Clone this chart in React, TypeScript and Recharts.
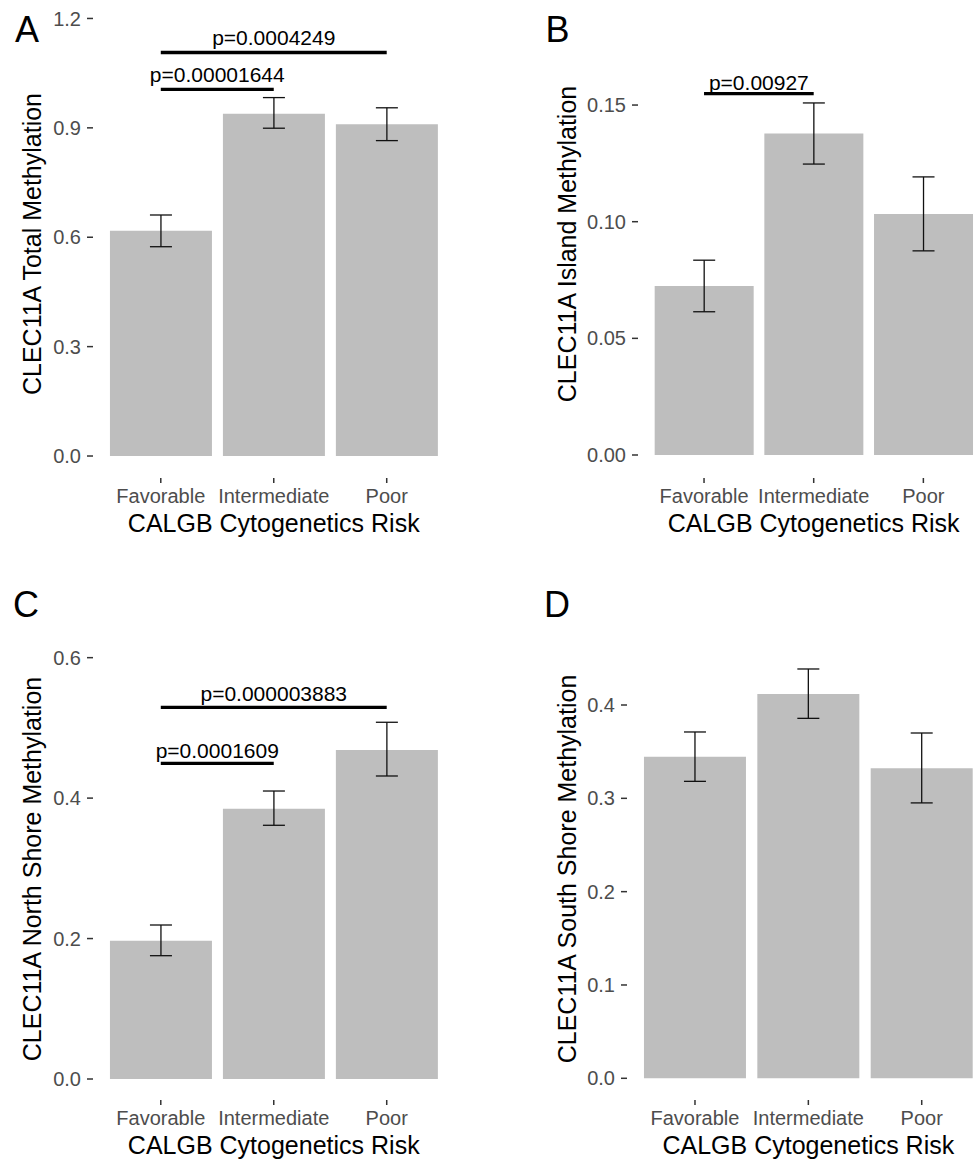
import React from 'react';
import { BarChart, Bar, XAxis, YAxis, ErrorBar, ReferenceLine, Label } from 'recharts';

const FONT = 'Liberation Sans, Arial, Helvetica, sans-serif';

const categories = ['Favorable', 'Intermediate', 'Poor'];

// Panel A: total methylation
const totalMean = [0.618, 0.939, 0.91];
const totalLow = [0.574, 0.899, 0.865];
const totalHigh = [0.661, 0.983, 0.955];
const totalTicks = [0, 0.3, 0.6, 0.9, 1.2];
const totalTickLabels = ['0.0', '0.3', '0.6', '0.9', '1.2'];
const totalPFrom = ['Favorable', 'Favorable'];
const totalPTo = ['Poor', 'Intermediate'];
const totalPLineY = [1.1066, 1.0057];
const totalPTextY = [1.148, 1.0475];
const totalPText = ['p=0.0004249', 'p=0.00001644'];

// Panel B: island methylation
const islandMean = [0.0724, 0.1378, 0.1033];
const islandLow = [0.0614, 0.1247, 0.0875];
const islandHigh = [0.0835, 0.1509, 0.1192];
const islandTicks = [0, 0.05, 0.1, 0.15];
const islandTickLabels = ['0.00', '0.05', '0.10', '0.15'];
const islandPFrom = ['Favorable'];
const islandPTo = ['Intermediate'];
const islandPLineY = [0.1549];
const islandPTextY = [0.1596];
const islandPText = ['p=0.00927'];

// Panel C: north shore methylation
const northMean = [0.197, 0.3849, 0.4685];
const northLow = [0.1756, 0.3613, 0.4315];
const northHigh = [0.2193, 0.4101, 0.508];
const northTicks = [0, 0.2, 0.4, 0.6];
const northTickLabels = ['0.0', '0.2', '0.4', '0.6'];
const northPFrom = ['Favorable', 'Favorable'];
const northPTo = ['Poor', 'Intermediate'];
const northPLineY = [0.5293, 0.4496];
const northPTextY = [0.5483, 0.4681];
const northPText = ['p=0.000003883', 'p=0.0001609'];

// Panel D: south shore methylation
const southMean = [0.3446, 0.4118, 0.3322];
const southLow = [0.3182, 0.3857, 0.2951];
const southHigh = [0.3711, 0.4386, 0.37];
const southTicks = [0, 0.1, 0.2, 0.3, 0.4];
const southTickLabels = ['0.0', '0.1', '0.2', '0.3', '0.4'];

const xTitle = 'CALGB Cytogenetics Risk';

function makeRows(mean: number[], low: number[], high: number[]) {
  return categories.map((c, i) => ({
    cat: c,
    value: mean[i],
    err: [mean[i] - low[i], high[i] - mean[i]],
  }));
}

function makeAnnots(from: string[], to: string[], lineY: number[], textY: number[], text: string[]) {
  return from.map((f, i) => ({ from: f, to: to[i], lineY: lineY[i], textY: textY[i], text: text[i] }));
}

type PanelProps = {
  left: number;
  top: number;
  width: number;
  height: number;
  margin: { top: number; right: number; bottom: number; left: number };
  yAxisWidth: number;
  xAxisHeight: number;
  xPad: number;
  domain: [number, number];
  ticks: number[];
  tickLabels: string[];
  yTitle: string;
  rows: any[];
  annots: any[];
};

function Panel(p: PanelProps) {
  return (
    <div style={{ position: 'absolute', left: p.left, top: p.top, width: p.width, height: p.height }}>
      <BarChart width={p.width} height={p.height} data={p.rows} margin={p.margin} barCategoryGap="5%">
        <XAxis
          dataKey="cat"
          type="category"
          interval={0}
          padding={{ left: p.xPad, right: p.xPad }}
          axisLine={false}
          tickSize={5}
          tickMargin={6}
          height={p.xAxisHeight}
          tickLine={{ stroke: '#333333', strokeWidth: 1.5 }}
          tick={{ fill: '#4D4D4D', fontSize: 20, fontFamily: FONT }}
        >
          <Label
            content={(lp: any) => {
              const vb = lp.viewBox || {};
              return (
                <text
                  x={vb.x + vb.width / 2}
                  y={vb.y + 54}
                  textAnchor="middle"
                  fontSize={25}
                  fontFamily={FONT}
                  fill="#000"
                >
                  {xTitle}
                </text>
              );
            }}
          />
        </XAxis>
        <YAxis
          type="number"
          domain={p.domain}
          allowDataOverflow
          ticks={p.ticks}
          interval={0}
          tickFormatter={(v: number, i: number) => p.tickLabels[i] ?? String(v)}
          width={p.yAxisWidth}
          axisLine={false}
          tickSize={6}
          tickMargin={6}
          tickLine={{ stroke: '#333333', strokeWidth: 1.5 }}
          tick={{ fill: '#4D4D4D', fontSize: 20, fontFamily: FONT }}
        >
          <Label
            content={(lp: any) => {
              const vb = lp.viewBox || {};
              const cx = vb.x + 32;
              const cy = vb.y + vb.height / 2;
              return (
                <text
                  x={cx}
                  y={cy}
                  dy="0.35em"
                  transform={`rotate(-90 ${cx} ${cy})`}
                  textAnchor="middle"
                  fontSize={25}
                  fontFamily={FONT}
                  fill="#000"
                >
                  {p.yTitle}
                </text>
              );
            }}
          />
        </YAxis>
        <Bar dataKey="value" fill="#BEBEBE" isAnimationActive={false}>
          <ErrorBar dataKey="err" width={11} stroke="#111" strokeWidth={1.3} direction="y" isAnimationActive={false} />
        </Bar>
        {p.annots.map((a, i) => (
          <ReferenceLine
            key={'l' + i}
            segment={[
              { x: a.from, y: a.lineY },
              { x: a.to, y: a.lineY },
            ]}
            stroke="#000"
            strokeWidth={3.3}
          />
        ))}
        {p.annots.map((a, i) => (
          <ReferenceLine
            key={'t' + i}
            segment={[
              { x: a.from, y: a.textY },
              { x: a.to, y: a.textY },
            ]}
            stroke="none"
            strokeWidth={0}
            label={{ value: a.text, position: 'center', fill: '#000', fontSize: 21, fontFamily: FONT }}
          />
        ))}
      </BarChart>
    </div>
  );
}

export default function App() {
  return (
    <div
      style={{
        position: 'absolute',
        left: 0,
        top: 0,
        width: 975,
        height: 1160,
        overflow: 'hidden',
        background: '#fff',
        fontFamily: FONT,
      }}
    >
      <Panel
        left={0}
        top={0}
        width={470}
        height={560}
        margin={{ top: 10, right: 15.5, left: 0, bottom: 22 }}
        yAxisWidth={93}
        xAxisHeight={60}
        xPad={11.3}
        domain={[-0.0603, 1.2232]}
        ticks={totalTicks}
        tickLabels={totalTickLabels}
        yTitle="CLEC11A Total Methylation"
        rows={makeRows(totalMean, totalLow, totalHigh)}
        annots={makeAnnots(totalPFrom, totalPTo, totalPLineY, totalPTextY, totalPText)}
      />
      <Panel
        left={535}
        top={0}
        width={455}
        height={560}
        margin={{ top: 10, right: 0.6, left: 0, bottom: 22 }}
        yAxisWidth={103}
        xAxisHeight={60}
        xPad={11.2}
        domain={[-0.00986, 0.19074]}
        ticks={islandTicks}
        tickLabels={islandTickLabels}
        yTitle="CLEC11A Island Methylation"
        rows={makeRows(islandMean, islandLow, islandHigh)}
        annots={makeAnnots(islandPFrom, islandPTo, islandPLineY, islandPTextY, islandPText)}
      />
      <Panel
        left={0}
        top={580}
        width={470}
        height={580}
        margin={{ top: 58, right: 15.5, left: 0, bottom: 10 }}
        yAxisWidth={93}
        xAxisHeight={50}
        xPad={11.3}
        domain={[-0.0299, 0.628]}
        ticks={northTicks}
        tickLabels={northTickLabels}
        yTitle="CLEC11A North Shore Methylation"
        rows={makeRows(northMean, northLow, northHigh)}
        annots={makeAnnots(northPFrom, northPTo, northPLineY, northPTextY, northPText)}
      />
      <Panel
        left={535}
        top={580}
        width={455}
        height={580}
        margin={{ top: 58, right: 0.3, left: 0, bottom: 10 }}
        yAxisWidth={92}
        xAxisHeight={50}
        xPad={11.3}
        domain={[-0.02325, 0.4718]}
        ticks={southTicks}
        tickLabels={southTickLabels}
        yTitle="CLEC11A South Shore Methylation"
        rows={makeRows(southMean, southLow, southHigh)}
        annots={[]}
      />
      <svg
        width={975}
        height={1160}
        style={{ position: 'absolute', left: 0, top: 0, pointerEvents: 'none' }}
      >
        <text x={15} y={42} fontSize={36} fontFamily={FONT} fill="#000">A</text>
        <text x={545.5} y={42} fontSize={36} fontFamily={FONT} fill="#000">B</text>
        <text x={13} y={617} fontSize={36} fontFamily={FONT} fill="#000">C</text>
        <text x={544} y={617} fontSize={36} fontFamily={FONT} fill="#000">D</text>
      </svg>
    </div>
  );
}
